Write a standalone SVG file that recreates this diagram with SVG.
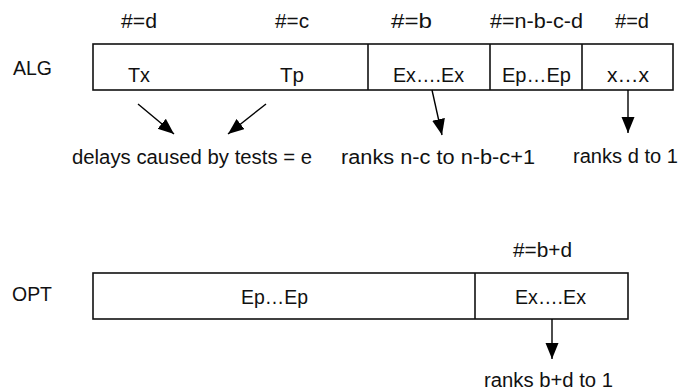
<svg xmlns="http://www.w3.org/2000/svg" width="681" height="391" viewBox="0 0 681 391">
<style>
text{font-family:"Liberation Sans",Arial,Helvetica,sans-serif;font-size:20px;fill:#111}
.box{fill:#fff;stroke:#111;stroke-width:1.6}
.div{stroke:#111;stroke-width:1.6}
.arr{stroke:#000;stroke-width:1.4;fill:none;marker-end:url(#ah)}
</style>
<defs>
<marker id="ah" markerUnits="userSpaceOnUse" markerWidth="17" markerHeight="14" refX="16" refY="6.5" orient="auto">
<path d="M0,0 L16,6.5 L0,13 z" fill="#000"/>
</marker>
</defs>
<rect width="681" height="391" fill="#fff"/>
<g id="alg">
<text x="13" y="75" textLength="39" lengthAdjust="spacingAndGlyphs">ALG</text>
<rect class="box" x="93" y="44" width="580" height="46"/>
<line class="div" x1="368" y1="44" x2="368" y2="90"/>
<line class="div" x1="490" y1="44" x2="490" y2="90"/>
<line class="div" x1="582" y1="44" x2="582" y2="90"/>
<text x="121" y="28" textLength="36" lengthAdjust="spacingAndGlyphs">#=d</text>
<text x="275" y="28" textLength="34" lengthAdjust="spacingAndGlyphs">#=c</text>
<text x="391" y="28" textLength="41" lengthAdjust="spacingAndGlyphs">#=b</text>
<text x="490" y="28" textLength="93" lengthAdjust="spacingAndGlyphs">#=n-b-c-d</text>
<text x="615" y="28" textLength="34" lengthAdjust="spacingAndGlyphs">#=d</text>
<text x="128" y="82" textLength="22" lengthAdjust="spacingAndGlyphs">Tx</text>
<text x="280" y="82" textLength="24" lengthAdjust="spacingAndGlyphs">Tp</text>
<text x="393" y="82" textLength="71" lengthAdjust="spacingAndGlyphs">Ex….Ex</text>
<text x="502" y="82" textLength="69" lengthAdjust="spacingAndGlyphs">Ep…Ep</text>
<text x="607" y="82" textLength="42" lengthAdjust="spacingAndGlyphs">x…x</text>
</g>
<g id="alg-labels">
<text x="72" y="164" textLength="240" lengthAdjust="spacingAndGlyphs">delays caused by tests = e</text>
<text x="341" y="164" textLength="194" lengthAdjust="spacingAndGlyphs">ranks n-c to n-b-c+1</text>
<text x="573" y="163" textLength="105" lengthAdjust="spacingAndGlyphs">ranks d to 1</text>
</g>
<g id="opt">
<text x="12" y="301" textLength="40" lengthAdjust="spacingAndGlyphs">OPT</text>
<rect class="box" x="93" y="273" width="535" height="46"/>
<line class="div" x1="475" y1="273" x2="475" y2="319"/>
<text x="513" y="257" textLength="59" lengthAdjust="spacingAndGlyphs">#=b+d</text>
<text x="241" y="304" textLength="67" lengthAdjust="spacingAndGlyphs">Ep…Ep</text>
<text x="515" y="304" textLength="71" lengthAdjust="spacingAndGlyphs">Ex….Ex</text>
<text x="484" y="387" textLength="129" lengthAdjust="spacingAndGlyphs">ranks b+d to 1</text>
</g>
<g id="connectors">
<line class="arr" x1="138" y1="104" x2="174" y2="134"/>
<line class="arr" x1="266" y1="104" x2="228" y2="134"/>
<line class="arr" x1="432" y1="90" x2="442" y2="135"/>
<line class="arr" x1="628" y1="90" x2="628" y2="133"/>
<line class="arr" x1="552" y1="319" x2="552" y2="359"/>
</g>
</svg>
